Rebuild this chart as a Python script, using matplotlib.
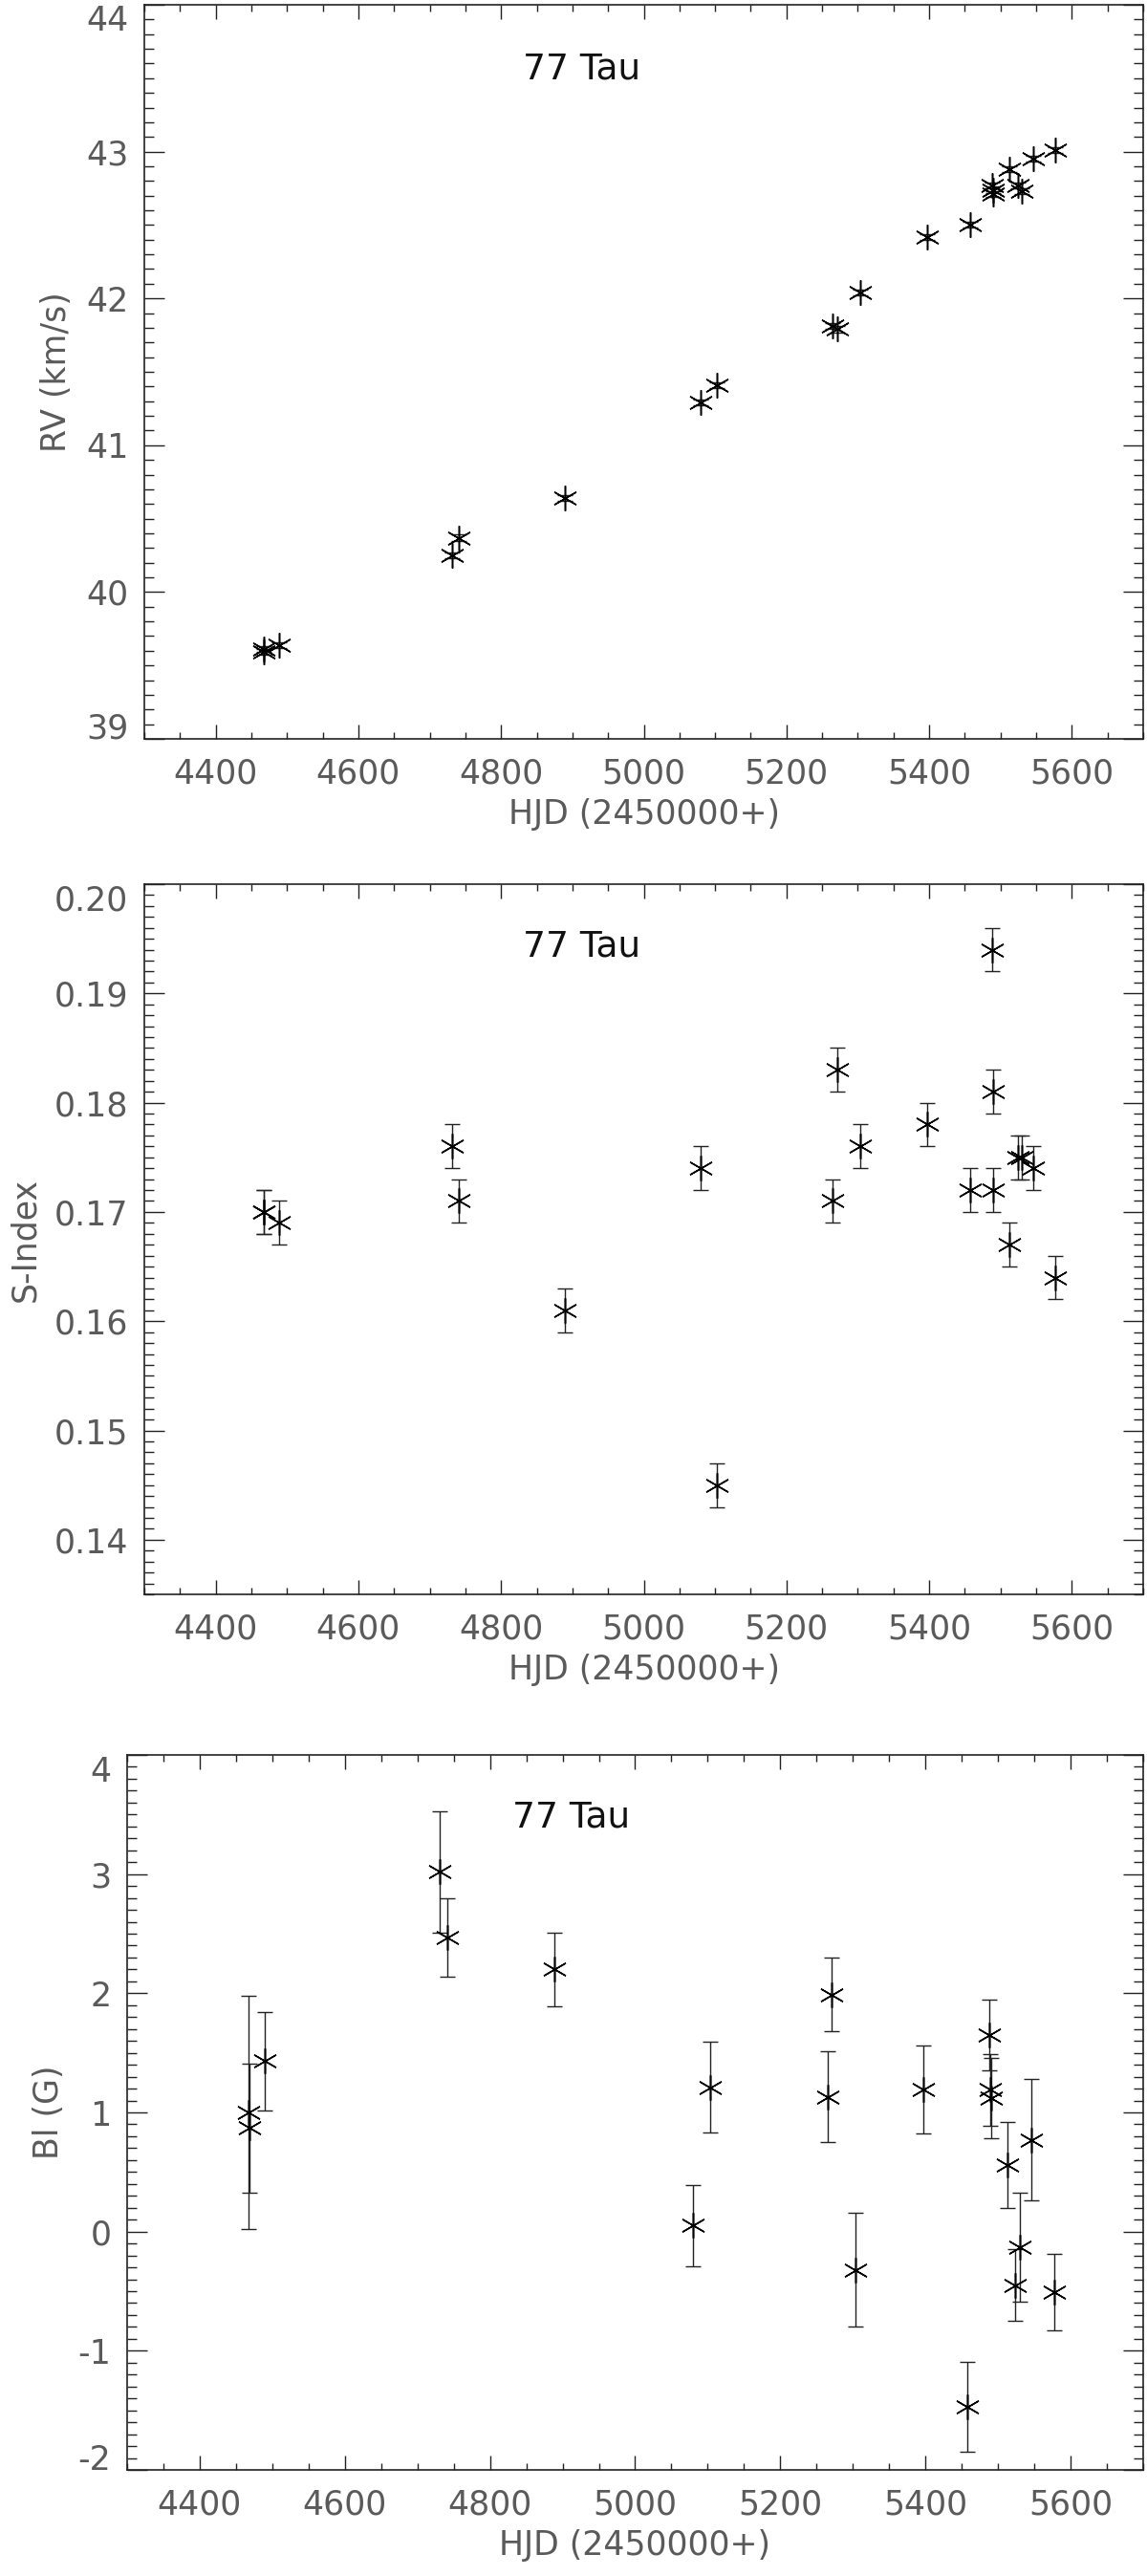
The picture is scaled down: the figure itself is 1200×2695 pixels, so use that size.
import numpy as np
import matplotlib
matplotlib.use('Agg')
import matplotlib.pyplot as plt
from matplotlib.ticker import MultipleLocator, FuncFormatter
import matplotlib.transforms as mtransforms

plt.rcParams['font.family'] = ['DejaVu Sans']

# dates (HJD - 2450000), common to the three panels
hjd = [4467, 4468, 4489, 4731, 4741, 4889, 5080, 5103, 5265, 5271, 5304,
       5397, 5458, 5488, 5489, 5490, 5513, 5524, 5530, 5546, 5577]

rv = [39.61, 39.59, 39.64, 40.25, 40.37, 40.64, 41.29, 41.41, 41.81, 41.79, 42.04,
      42.42, 42.50, 42.77, 42.74, 42.71, 42.88, 42.77, 42.73, 42.95, 43.01]
rv_err = [0.02] * 21

sindex = [0.170, 0.170, 0.169, 0.176, 0.171, 0.161, 0.174, 0.145, 0.171, 0.183, 0.176,
          0.178, 0.172, 0.194, 0.181, 0.172, 0.167, 0.175, 0.175, 0.174, 0.164]
s_err = [0.002] * 21

bl = [1.00, 0.87, 1.43, 3.02, 2.47, 2.20, 0.05, 1.21, 1.13, 1.99, -0.32,
      1.19, -1.47, 1.65, 1.19, 1.12, 0.56, -0.45, -0.13, 0.77, -0.51]
bl_err = [0.98, 0.54, 0.41, 0.51, 0.33, 0.31, 0.34, 0.38, 0.38, 0.31, 0.48,
          0.37, 0.38, 0.30, 0.30, 0.34, 0.36, 0.30, 0.46, 0.51, 0.32]

star = '77 Tau'
xlab = 'HJD (2450000+)'

gray = '#5a5a5a'
fig = plt.figure(figsize=(12, 26.95), dpi=100)
W, H = 1200., 2695.

def make_ax(left, top, bottom, right=1196):
    return fig.add_axes([left / W, 1 - bottom / H, (right - left) / W, (bottom - top) / H])

def style(ax, ylim, ymaj, ymin, ylabel, fmt):
    ax.set_xlim(4300, 5700)
    ax.set_ylim(*ylim)
    ax.xaxis.set_major_locator(MultipleLocator(200))
    ax.xaxis.set_minor_locator(MultipleLocator(50))
    ax.yaxis.set_major_locator(MultipleLocator(ymaj))
    ax.yaxis.set_minor_locator(MultipleLocator(ymin))
    ax.yaxis.set_major_formatter(FuncFormatter(fmt))
    ax.tick_params(axis='both', which='both', direction='in', top=True, right=True,
                   color='#222222', labelcolor=gray, labelsize=25, width=1)
    ax.tick_params(axis='x', which='major', length=11, pad=14)
    ax.tick_params(axis='x', which='minor', length=5)
    ax.tick_params(axis='y', which='major', length=15, pad=12)
    ax.tick_params(axis='y', which='minor', length=7.5)
    for s in ax.spines.values():
        s.set_linewidth(1.2)
        s.set_color('#222222')
    ax.set_xlabel(xlab, fontsize=25, color=gray, labelpad=6)
    ax.set_ylabel(ylabel, fontsize=25, color=gray, labelpad=10)
    ax.text(0.379, 0.912, star, transform=ax.transAxes, fontsize=27,
            va='center', ha='left', color='#111111')
    # end labels sit a little inside the frame, as in the original plot
    fig.canvas.draw()
    lo, hi = ax.get_ylim()
    for t in ax.get_yticklabels():
        v = t.get_position()[1]
        if abs(v - hi) < 1e-9:
            t.set_transform(t.get_transform() + mtransforms.ScaledTranslation(0, -14 / 100., fig.dpi_scale_trans))
        elif abs(v - lo) < 1e-9:
            t.set_transform(t.get_transform() + mtransforms.ScaledTranslation(0, 14 / 100., fig.dpi_scale_trans))

def draw(ax, y, e):
    ax.errorbar(hjd, y, yerr=e, fmt='none', ecolor='#222222', elinewidth=1,
                capsize=6, capthick=1)
    ax.plot(hjd, y, ls='none', marker=(6, 2, 0), ms=19, mew=1.1, color='black')

ax1 = make_ax(151, 5, 773)
draw(ax1, rv, rv_err)
style(ax1, (39, 44), 1, 0.1, 'RV (km/s)', lambda v, p: '%d' % round(v))

ax2 = make_ax(151, 925, 1668)
draw(ax2, sindex, s_err)
style(ax2, (0.135, 0.20), 0.01, 0.001, 'S-Index', lambda v, p: '%.2f' % v)

ax3 = make_ax(133, 1836, 2584)
draw(ax3, bl, bl_err)
style(ax3, (-2, 4), 1, 0.1, 'Bl (G)', lambda v, p: '%d' % round(v))

fig.savefig('out.png', dpi=100)
